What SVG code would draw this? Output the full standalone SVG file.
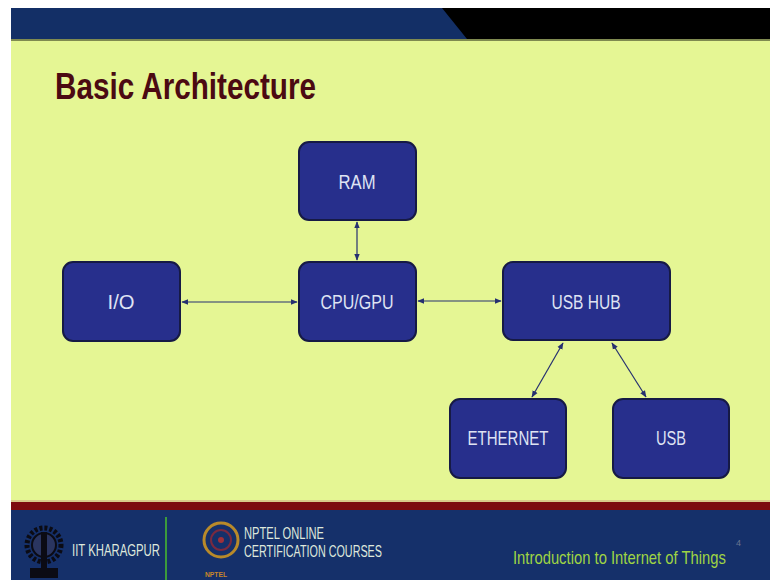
<svg xmlns="http://www.w3.org/2000/svg" width="770" height="580" viewBox="0 0 770 580">
<defs>
<marker id="ah" viewBox="0 0 10 10" refX="9" refY="5" markerWidth="7" markerHeight="7" orient="auto-start-reverse" markerUnits="userSpaceOnUse">
<path d="M0,1 L10,5 L0,9 Z" fill="#263070"/>
</marker>
<style>
.box{fill:#272f8c;stroke:#161a45;stroke-width:2}
.lbl{font-family:"Liberation Sans",Arial,sans-serif;font-size:20px;fill:#dfe3f3;text-anchor:middle}
.con{stroke:#263070;stroke-width:1.2;fill:none;marker-start:url(#ah);marker-end:url(#ah)}
.ft{font-family:"Liberation Sans",Arial,sans-serif;fill:#dfe8dc}
</style>
</defs>
<rect width="770" height="580" fill="#ffffff"/>
<!-- slide background -->
<rect x="11" y="8" width="759" height="572" fill="#e5f694"/>
<!-- top bar -->
<rect x="11" y="8" width="759" height="31" fill="#132f66"/>
<polygon points="442,8 770,8 770,39 467,39" fill="#000000"/>
<rect x="11" y="39" width="759" height="2" fill="#7f8a50"/>
<!-- title -->
<text x="55" y="99" font-family="Liberation Sans,Arial,sans-serif" font-weight="bold" font-size="36" fill="#4b0a12" textLength="261" lengthAdjust="spacingAndGlyphs">Basic Architecture</text>

<g id="connectors">
<line class="con" x1="357" y1="222" x2="357" y2="260"/>
<line class="con" x1="182" y1="302" x2="297" y2="302"/>
<line class="con" x1="418" y1="301" x2="501" y2="301"/>
<line class="con" x1="563" y1="343" x2="532" y2="397"/>
<line class="con" x1="612" y1="343" x2="646" y2="397"/>
</g>

<g id="ram">
<rect class="box" x="299" y="142" width="117" height="78" rx="10"/>
<text class="lbl" x="357" y="189" textLength="37" lengthAdjust="spacingAndGlyphs">RAM</text>
</g>
<g id="io">
<rect class="box" x="63" y="262" width="117" height="79" rx="10"/>
<text class="lbl" x="121" y="309" textLength="27" lengthAdjust="spacingAndGlyphs">I/O</text>
</g>
<g id="cpu">
<rect class="box" x="299" y="262" width="117" height="79" rx="10"/>
<text class="lbl" x="357" y="309" textLength="73" lengthAdjust="spacingAndGlyphs">CPU/GPU</text>
</g>
<g id="usbhub">
<rect class="box" x="503" y="262" width="167" height="78" rx="10"/>
<text class="lbl" x="586" y="309" textLength="69" lengthAdjust="spacingAndGlyphs">USB HUB</text>
</g>
<g id="ethernet">
<rect class="box" x="450" y="399" width="116" height="79" rx="10"/>
<text class="lbl" x="508" y="445" textLength="81" lengthAdjust="spacingAndGlyphs">ETHERNET</text>
</g>
<g id="usb">
<rect class="box" x="613" y="399" width="116" height="79" rx="10"/>
<text class="lbl" x="671" y="445" textLength="30" lengthAdjust="spacingAndGlyphs">USB</text>
</g>

<!-- footer -->
<rect x="11" y="500" width="759" height="2" fill="#d9c98a"/>
<rect x="11" y="502" width="759" height="8" fill="#7d0a10"/>
<rect x="11" y="510" width="759" height="70" fill="#15306a"/>
<!-- IIT logo (simplified) -->
<circle cx="44" cy="545" r="17" fill="none" stroke="#0b0b14" stroke-width="5" stroke-dasharray="3 2"/>
<circle cx="44" cy="545" r="12" fill="#2a3560" stroke="#0b0b14" stroke-width="2"/>
<rect x="41" y="532" width="6" height="40" fill="#0b0b14"/>
<rect x="30" y="568" width="28" height="10" fill="#0b0b14"/>
<text class="ft" x="72" y="556" font-size="16" textLength="88" lengthAdjust="spacingAndGlyphs">IIT KHARAGPUR</text>
<rect x="165" y="517" width="2" height="63" fill="#3c9a3c"/>
<!-- NPTEL logo (simplified) -->
<circle cx="221" cy="540" r="17" fill="none" stroke="#b88a2a" stroke-width="3"/>
<circle cx="221" cy="540" r="10" fill="none" stroke="#7a2a40" stroke-width="2"/>
<circle cx="221" cy="540" r="3" fill="#a0303a"/>
<text x="205" y="577" font-family="Liberation Sans,Arial,sans-serif" font-size="8" font-weight="bold" fill="#c8872a" textLength="22" lengthAdjust="spacingAndGlyphs">NPTEL</text>
<text class="ft" x="244" y="539" font-size="16" textLength="80" lengthAdjust="spacingAndGlyphs">NPTEL ONLINE</text>
<text class="ft" x="244" y="557" font-size="16" textLength="138" lengthAdjust="spacingAndGlyphs">CERTIFICATION COURSES</text>
<text x="513" y="564" font-family="Liberation Sans,Arial,sans-serif" font-size="19" fill="#9fd444" textLength="213" lengthAdjust="spacingAndGlyphs">Introduction to Internet of Things</text>
<text x="736" y="546" font-family="Liberation Sans,Arial,sans-serif" font-size="9" fill="#6a7590">4</text>
</svg>
